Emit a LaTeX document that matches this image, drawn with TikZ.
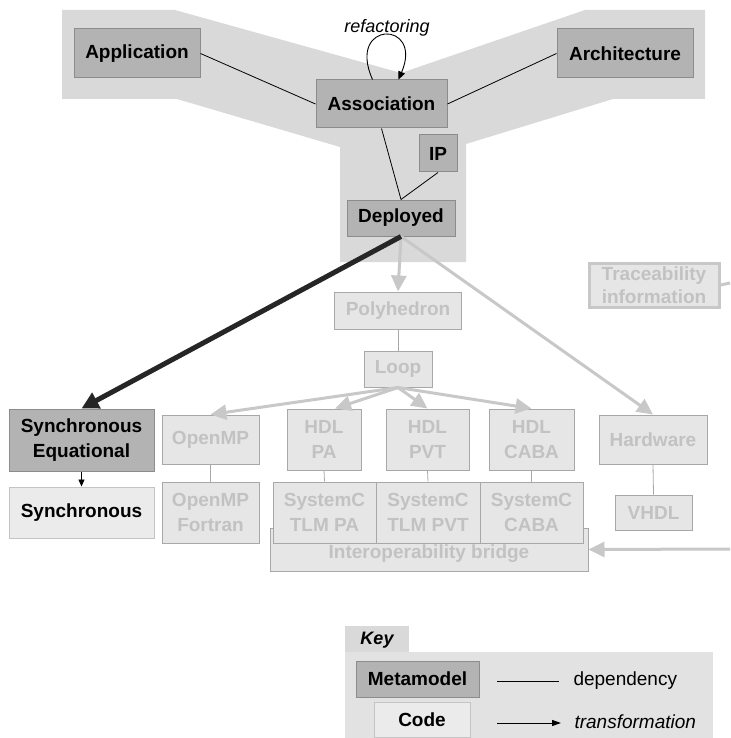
\documentclass[tikz,border=0pt]{standalone}
\usepackage{fontspec}
\setmainfont{Liberation Sans}
\usetikzlibrary{arrows.meta,calc}
\definecolor{band}{HTML}{D9D9D9}
\definecolor{keybody}{HTML}{E2E2E2}
\definecolor{meta}{HTML}{B3B3B3}
\definecolor{metaborder}{HTML}{8C8C8C}
\definecolor{codefill}{HTML}{E6E6E6}
\definecolor{codeborder}{HTML}{A8A8A8}
\definecolor{lightfill}{HTML}{EBEBEB}
\definecolor{lightborder}{HTML}{C4C4C4}
\definecolor{fadetext}{HTML}{C2C2C2}
\definecolor{fadeline}{HTML}{C8C8C8}
\tikzset{
  boxfont/.style={font=\bfseries\fontsize{19}{25}\selectfont},
  metabox/.style={boxfont, draw=metaborder, fill=meta, inner sep=0pt, align=center, line width=1pt},
  fadebox/.style={boxfont, draw=codeborder, fill=codefill, text=fadetext, inner sep=0pt, align=center, line width=1pt},
  codebox/.style={boxfont, draw=lightborder, fill=lightfill, inner sep=0pt, align=center, line width=1pt},
  dep/.style={draw=black, line width=0.8pt},
  fadedep/.style={draw=codeborder, line width=0.8pt},
  fadearrow/.style={draw=fadeline, line width=3pt, -{Triangle[length=16pt,width=15pt]}},
  bigarrow/.style={draw=black!85, line width=5pt, -{Triangle[length=17pt,width=17pt]}},
  smallarrow/.style={draw=black, line width=0.9pt, -{Triangle[length=7pt,width=6pt]}},
}
\begin{document}
\begin{tikzpicture}[x=1pt,y=-1pt]
\useasboundingbox (0,0) rectangle (730,738);
% Y-shaped band
\fill[band] (62,10) -- (175,10) -- (401,73) -- (585,10) -- (705,10) -- (705,99) -- (613,99) -- (466,144) -- (466,262) -- (340,262) -- (340,147) -- (177,99) -- (62,99) -- cycle;

% metamodel boxes
\node[metabox, minimum width=126pt, minimum height=49pt] (app) at (137,53.5) {Application};
\node[metabox, minimum width=136pt, minimum height=49pt] (arch) at (625,53.5) {Architecture};
\node[metabox, minimum width=131pt, minimum height=48pt] (assoc) at (381.5,104) {Association};
\node[metabox, minimum width=38pt, minimum height=37pt] (ip) at (438,153.5) {IP};
\node[metabox, minimum width=108pt, minimum height=36pt] (depl) at (401,218) {Deployed};
\node[font=\itshape\fontsize{18}{20}\selectfont] (refac) at (387,28) {refactoring};

% faded chain
\node[fadebox, minimum width=127pt, minimum height=37pt] (poly) at (398,310.5) {Polyhedron};
\node[fadebox, minimum width=68pt, minimum height=36pt] (loop) at (398,369) {Loop};
\node[fadebox, minimum width=97pt, minimum height=49pt] (omp) at (210.5,439.5) {OpenMP};
\node[fadebox, minimum width=74pt, minimum height=61pt] (hdlpa) at (324,439.5) {HDL\\PA};
\node[fadebox, minimum width=83pt, minimum height=61pt] (hdlpvt) at (427.5,439.5) {HDL\\PVT};
\node[fadebox, minimum width=85pt, minimum height=61pt] (hdlcaba) at (531.5,439.5) {HDL\\CABA};
\node[fadebox, minimum width=108pt, minimum height=49pt] (hw) at (653,439.5) {Hardware};
\node[fadebox, minimum width=77pt, minimum height=35pt] (vhdl) at (653.5,512.5) {VHDL};
\node[fadebox, minimum width=318pt, minimum height=43pt, label={[boxfont, text=fadetext, yshift=-4pt]center:Interoperability bridge}] (bridge) at (429,549.5) {};
\node[fadebox, minimum width=97pt, minimum height=61pt] (ompf) at (210.5,512.5) {OpenMP\\Fortran};
\node[fadebox, minimum width=103pt, minimum height=61pt] (scpa) at (324.5,512.5) {SystemC\\TLM PA};
\node[fadebox, minimum width=104pt, minimum height=61pt] (scpvt) at (428,512.5) {SystemC\\TLM PVT};
\node[fadebox, minimum width=103pt, minimum height=61pt] (sccaba) at (531.5,512.5) {SystemC\\CABA};
\node[fadebox, draw=fadeline, line width=3pt, minimum width=130pt, minimum height=44pt, font=\bfseries\fontsize{19}{23}\selectfont] (trace) at (654,285) {Traceability\\information};

% synchronous
\node[metabox, minimum width=145pt, minimum height=62pt] (synceq) at (81.5,440) {Synchronous\\Equational};
\node[codebox, minimum width=145pt, minimum height=51pt] (sync) at (81.5,512.5) {Synchronous};

% dependencies
\draw[dep] (app.east) -- (assoc.west);
\draw[dep] (arch.west) -- (assoc.east);
\draw[dep] (assoc.south) -- (depl.north);
\draw[dep] (ip.south) -- (depl.north);
\draw[draw=black, line width=0.9pt, -{Triangle[length=8pt,width=7pt]}] ([xshift=-9pt]assoc.north) .. controls (346,20) and (424,20) .. ([xshift=17pt]assoc.north);

\draw[fadedep] (poly.south) -- (loop.north);
\draw[fadedep] (omp.south) -- (ompf.north);
\draw[fadedep] (hdlpa.south) -- (scpa.north);
\draw[fadedep] (hdlpvt.south) -- (scpvt.north);
\draw[fadedep] (hdlcaba.south) -- (sccaba.north);
\draw[fadedep] (hw.south) -- (vhdl.north);

% transformations
\draw[fadearrow] (depl.south) -- (poly.north);
\draw[fadearrow] (depl.south) -- (hw.north);
\draw[fadearrow] (loop.south) -- (omp.north);
\draw[fadearrow] (loop.south) -- ([xshift=11pt]hdlpa.north);
\draw[fadearrow] (loop.south) -- (hdlpvt.north);
\draw[fadearrow] (loop.south) -- (hdlcaba.north);
\coordinate (bridgesrc) at (730,549);
\draw[fadearrow] (bridgesrc) -- (bridge.east);
\coordinate (traceend) at (730,283);
\draw[draw=fadeline, line width=3pt] (trace.east) -- (traceend);
\draw[bigarrow] (depl.south) -- (synceq.north);
\draw[smallarrow] (synceq.south) -- (sync.north);

% key
\fill[band] (345,626) rectangle (409,653);
\fill[keybody] (345,652) rectangle (713,738);
\node[font=\bfseries\itshape\fontsize{18}{20}\selectfont] (keylbl) at (377,640) {Key};
\node[metabox, minimum width=123pt, minimum height=36pt] (kmeta) at (417.5,679) {Metamodel};
\node[codebox, minimum width=96pt, minimum height=35pt] (kcode) at (422,719.5) {Code};
\coordinate (kd1) at (497,681);
\coordinate (kd2) at (559,681);
\draw[dep] (kd1) -- (kd2);
\node[anchor=west, font=\fontsize{19}{21}\selectfont] (kdep) at (570,681) {dependency};
\coordinate (kt1) at (497,723);
\coordinate (kt2) at (561,723);
\draw[draw=black, line width=1pt, -{Triangle[length=9pt,width=6pt]}] (kt1) -- (kt2);
\node[anchor=west, font=\itshape\fontsize{19}{21}\selectfont] (ktr) at (571,722) {transformation};
\end{tikzpicture}
\end{document}
